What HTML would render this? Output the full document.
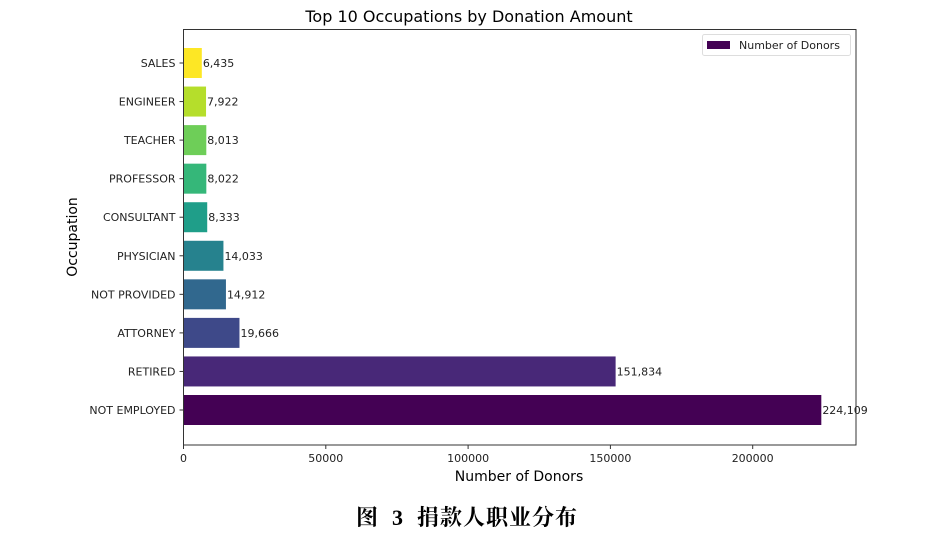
<!DOCTYPE html>
<html><head><meta charset="utf-8"><style>
body{margin:0;background:#fff;width:938px;height:532px;overflow:hidden}
text{font-family:"DejaVu Sans","Liberation Sans",sans-serif}
</style></head><body>
<svg id="chart" width="938" height="532">
<text x="469" y="22" text-anchor="middle" font-size="16" fill="#000">Top 10 Occupations by Donation Amount</text>
<g id="bars"></g>
<g id="yticks"></g>
<g id="xticks"></g>
<rect x="183.5" y="29.5" width="672.5" height="415.5" fill="none" stroke="#333" stroke-width="1"/>
<text x="519" y="481" text-anchor="middle" font-size="14" fill="#000">Number of Donors</text>
<text transform="translate(77,237) rotate(-90)" text-anchor="middle" font-size="14" fill="#000">Occupation</text>
<g>
<rect x="702.5" y="34.5" width="148" height="21" rx="2" fill="#fff" stroke="#ddd"/>
<rect x="707" y="41" width="23" height="8" fill="#440154"/>
<text x="739" y="49" font-size="11" fill="#222">Number of Donors</text>
</g>
<text x="467" y="525" text-anchor="middle" font-size="22" font-weight="bold" fill="#000" letter-spacing="1" xml:space="preserve" style="font-family:'Liberation Serif','Noto Serif CJK SC',serif;white-space:pre">图  3  捐款人职业分布</text>
</svg>
<script>
const categories=["NOT EMPLOYED","RETIRED","ATTORNEY","NOT PROVIDED","PHYSICIAN","CONSULTANT","PROFESSOR","TEACHER","ENGINEER","SALES"];
const values=[224109,151834,19666,14912,14033,8333,8022,8013,7922,6435];
const colors=["#440154","#482878","#3e4989","#31688e","#26828e","#1f9e89","#35b779","#6ece58","#b5de2b","#fde725"];
const xTicks=[0,50000,100000,150000,200000];
const NS="http://www.w3.org/2000/svg";
const x0=183.5,xs=(752.7-183.5)/200000;
const xPos=v=>x0+v*xs;
const yPos=i=>410-i*(410-63)/9;
const bh=30;
function mk(tag,attrs,parent){const e=document.createElementNS(NS,tag);for(const k in attrs)e.setAttribute(k,attrs[k]);parent.appendChild(e);return e;}
const gb=document.getElementById('bars'),gy=document.getElementById('yticks'),gx=document.getElementById('xticks');
categories.forEach((c,i)=>{
 const y=yPos(i);
 const r=mk('rect',{x:x0,y:y-bh/2,width:xPos(values[i])-x0,height:bh,fill:colors[i]},gb);
 
 
 const t=mk('text',{x:xPos(values[i])+1,y:y+4,'font-size':11,fill:'#222'},gb);
 t.textContent=values[i].toLocaleString('en-US');
 
 
 const tk=mk('line',{x1:x0-4,x2:x0,y1:y,y2:y,stroke:'#333'},gy);
 
 
 const l=mk('text',{x:x0-8,y:y+4,'font-size':11,fill:'#222','text-anchor':'end'},gy);
 l.textContent=c;
 
 
});
xTicks.forEach(v=>{
 const x=xPos(v);
 const tk=mk('line',{x1:x,x2:x,y1:445,y2:449,stroke:'#333'},gx);
 
 
 const l=mk('text',{x:x,y:462,'font-size':11,fill:'#222','text-anchor':'middle'},gx);
 l.textContent=v;
 
 
});
</script>
</body></html>
